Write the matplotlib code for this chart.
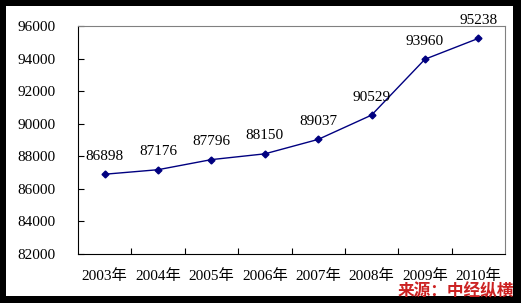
import matplotlib.pyplot as plt
from matplotlib.patches import Rectangle
import numpy as np

plt.rcParams['font.family'] = ['Liberation Serif', 'Noto Sans CJK SC']

# data
years = ['2003年', '2004年', '2005年', '2006年', '2007年', '2008年', '2009年', '2010年']
values = [86898, 87176, 87796, 88150, 89037, 90529, 93960, 95238]
yticks = [82000, 84000, 86000, 88000, 90000, 92000, 94000, 96000]

W, H = 521, 303
fig = plt.figure(figsize=(W / 100, H / 100), dpi=100, facecolor='black')
# white panel inside black frame
fig.patches.append(Rectangle((6 / W, 7 / H), 507 / W, 290 / H, transform=fig.transFigure,
                             facecolor='white', edgecolor='none', zorder=-5))

ax = fig.add_axes([78 / W, 1 - 254 / H, 427 / W, 228 / H])
ax.set_zorder(2)
x = np.arange(len(values)) + 0.5
ax.plot(x, values, color='#000080', lw=1, marker='D', ms=3.5)

# value labels above points
for xi, v in zip(x, values):
    ax.annotate(str(v), (xi, v), xytext=(0, 13), textcoords='offset points',
                ha='center', va='center', fontsize=11, color='black', annotation_clip=False)

ax.set_xlim(0, len(values))
ax.set_ylim(82000, 96000)
ax.set_yticks(yticks)
ax.set_yticklabels([str(t) for t in yticks])
ax.tick_params(axis='y', direction='in', length=4, pad=16, labelsize=11)

# ticks at category boundaries, labels at centres
ax.set_xticks(np.arange(1, len(values)))
ax.set_xticklabels([])
ax.tick_params(axis='x', which='major', direction='in', length=4)
ax.set_xticks(x, minor=True)
ax.set_xticklabels(years, minor=True)
ax.tick_params(axis='x', which='minor', length=0, pad=11, labelsize=11)

for s in ['top', 'right']:
    ax.spines[s].set_color('#808080')
for s in ['left', 'bottom']:
    ax.spines[s].set_color('black')

fig.text(514 / W, 1 - 291 / H, '来源：中经纵横', ha='right', va='center', color='#cc2222',
         fontsize=12, fontweight='bold', style='italic', family=['Noto Sans CJK SC'],
         zorder=5)

fig.savefig('out.png', dpi=100, facecolor=fig.get_facecolor())
